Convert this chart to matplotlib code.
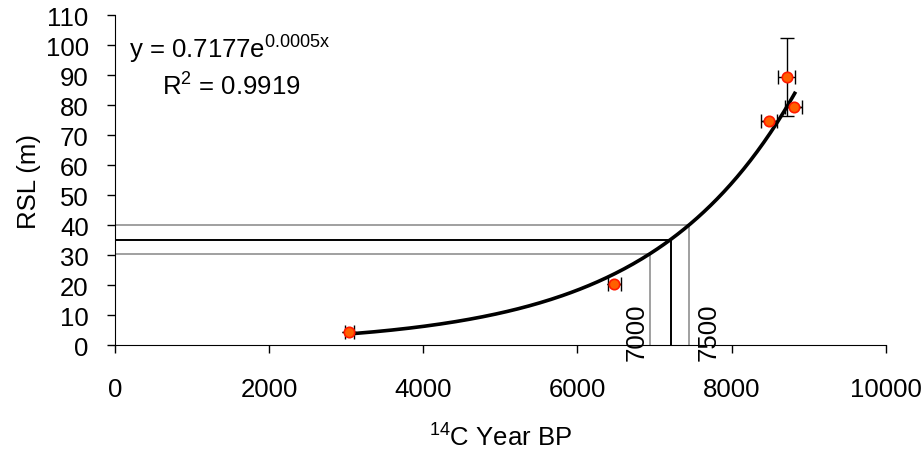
import numpy as np
import matplotlib
matplotlib.use("Agg")
import matplotlib.pyplot as plt

plt.rcParams['font.family'] = ['Liberation Sans', 'DejaVu Sans']
plt.rcParams['mathtext.fontset'] = 'custom'
plt.rcParams['mathtext.rm'] = 'Liberation Sans'
plt.rcParams['mathtext.it'] = 'Liberation Sans'

# dated samples: 14C age (yr BP) and relative sea level (m)
age = [3040, 6480, 8485, 8715, 8810]
rsl = [4.3, 20.4, 74.7, 89.5, 79.4]
age_err = [55, 80, 100, 110, 110]
rsl_err = [0, 0, 0, 13, 0]

# exponential trendline shown on the chart
fit_a = 0.7177
fit_b = 0.00054
fit_range = [3100, 8820]

# reading lines (age, rsl, colour)
read_age = [6940, 7215, 7450]
read_rsl = [30.3, 35.2, 40.0]
read_col = ['#a0a0a0', 'black', '#a0a0a0']
read_labels = ['7000', '7500']
label_x = [6770, 7700]

FS = 18.5

fig = plt.figure(figsize=(9.24, 4.52), dpi=100)
ax = fig.add_axes([0.1245, 0.2345, 0.834, 0.729])

for xa, ya, c in zip(read_age, read_rsl, read_col):
    ax.plot([0, xa], [ya, ya], color=c, lw=1.4, zorder=1)
    ax.plot([xa, xa], [0, ya], color=c, lw=1.4, zorder=1)

xs = np.linspace(fit_range[0], fit_range[1], 200)
ax.plot(xs, fit_a * np.exp(fit_b * xs), color='black', lw=2.6, zorder=3)

ax.errorbar(age, rsl, xerr=age_err, yerr=rsl_err, fmt='none', ecolor='black',
            elinewidth=1, capsize=5, capthick=1, zorder=2)
ax.plot(age, rsl, 'o', ms=7.5, mfc='#ff6000', mec='#ff1a00', mew=1.2, zorder=4)

for lx, lab in zip(label_x, read_labels):
    ax.text(lx, 4.5, lab, rotation=90, fontsize=FS, ha='center', va='center',
            clip_on=False)

ax.text(180, 99, r'y = 0.7177e$^{0.0005x}$', fontsize=FS, va='center')
ax.text(610, 86.6, r'R$^2$ = 0.9919', fontsize=FS, va='center')

ax.set_xlim(0, 10000)
ax.set_ylim(0, 110)
ax.set_xticks(np.arange(0, 10001, 2000))
ax.set_yticks(np.arange(0, 111, 10))
for s in ['top', 'right']:
    ax.spines[s].set_visible(False)
ax.tick_params(axis='both', labelsize=FS, length=6, width=1, direction='out')
ax.tick_params(axis='y', pad=13)
ax.tick_params(axis='x', pad=17)

ax.set_xlabel(r'$^{14}$C Year BP', fontsize=FS, labelpad=16)
ax.set_ylabel('RSL (m)', fontsize=FS, labelpad=3)

fig.savefig('out.png', dpi=100)
